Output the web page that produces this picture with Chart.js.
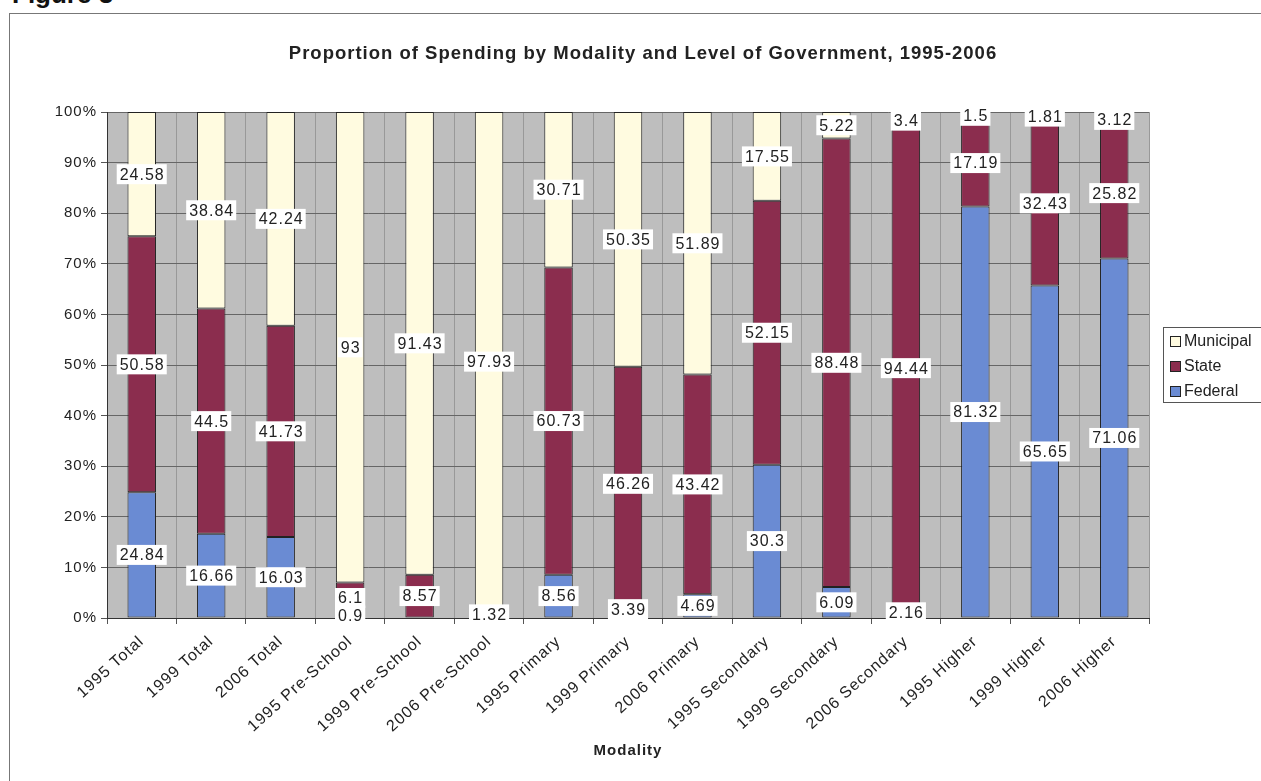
<!DOCTYPE html>
<html>
<head>
<meta charset="utf-8">
<script src="https://cdn.jsdelivr.net/npm/chart.js@4.4.0/dist/chart.umd.min.js"></script>
<style>
body { margin:0; background:#fff; font-family:"Liberation Sans", Arial, sans-serif; }
#wrap { position:relative; width:1261px; height:781px; overflow:hidden; }
#fig { position:absolute; left:12px; top:-21px; font-weight:bold; font-size:26px; color:#111; }
#frame { position:absolute; left:9px; top:13px; width:1300px; height:800px; border:1px solid #777; }
canvas { position:absolute; left:0; top:0; }
</style>
</head>
<body>
<div id="wrap">
<div id="fig">Figure 3</div>
<div id="frame"></div>
<canvas id="graph" width="1261" height="781"></canvas>
</div>
<script>
var categories = ["1995 Total", "1999 Total", "2006 Total", "1995 Pre-School", "1999 Pre-School", "2006 Pre-School",
	"1995 Primary", "1999 Primary", "2006 Primary", "1995 Secondary", "1999 Secondary", "2006 Secondary",
	"1995 Higher", "1999 Higher", "2006 Higher"];
var federal = [24.84, 16.66, 16.03, 0.9, null, null, 8.56, 3.39, 4.69, 30.3, 6.09, 2.16, 81.32, 65.65, 71.06];
var state = [50.58, 44.5, 41.73, 6.1, 8.57, 1.32, 60.73, 46.26, 43.42, 52.15, 88.48, 94.44, 17.19, 32.43, 25.82];
var municipal = [24.58, 38.84, 42.24, 93, 91.43, 97.93, 30.71, 50.35, 51.89, 17.55, 5.22, 3.4, 1.5, 1.81, 3.12];
var seriesNames = ["Federal", "State", "Municipal"];
var yTicks = ["0%", "10%", "20%", "30%", "40%", "50%", "60%", "70%", "80%", "90%", "100%"];

var series = [federal, state, municipal];
var colors = ["#6a8bd3", "#8b2d4e", "#fffbe0"];

// 100% stacked: each bar is scaled to its own total
function share(k) {
	return series[k].map(function (v, i) {
		var tot = 0;
		series.forEach(function (s) { tot += s[i] || 0; });
		return v == null ? null : v / tot * 100;
	});
}

var FONT = '"Liberation Sans", Arial, sans-serif';

var extras = {
	id: "extras",
	beforeUpdate: function (chart) {
		chart.ctx.letterSpacing = "1px";
	},
	beforeDraw: function (chart) {
		var a = chart.chartArea, ctx = chart.ctx;
		ctx.letterSpacing = "1px";
		ctx.save();
		ctx.fillStyle = "#bebebe";
		ctx.fillRect(a.left, a.top, a.right - a.left, a.bottom - a.top);
		ctx.restore();
	},
	afterDatasetsDraw: function (chart) {
		var ctx = chart.ctx;
		ctx.save();
		ctx.font = "16px " + FONT;
		ctx.letterSpacing = "1px";
		ctx.textAlign = "center";
		ctx.textBaseline = "middle";
		chart.data.datasets.forEach(function (ds, di) {
			var meta = chart.getDatasetMeta(di);
			meta.data.forEach(function (bar, i) {
				var v = series[di][i];
				if (v == null) return;
				var p = bar.getProps(["x", "y", "base"], true);
				var cy = (p.y + p.base) / 2;
				var txt = String(v);
				var w = ctx.measureText(txt).width + 5;
				ctx.fillStyle = "#fff";
				ctx.fillRect(p.x - w / 2, cy - 10, w, 20);
				ctx.fillStyle = "#222";
				ctx.fillText(txt, p.x + 0.5, cy + 1);
			});
		});
		ctx.restore();
	},
	afterDraw: function (chart) {
		var ctx = chart.ctx;
		ctx.save();
		// title
		ctx.fillStyle = "#222";
		ctx.font = "bold 18.5px " + FONT;
		ctx.letterSpacing = "1px";
		ctx.textAlign = "center";
		ctx.textBaseline = "middle";
		ctx.fillText("Proportion of Spending by Modality and Level of Government, 1995-2006", 643, 54);
		// legend
		var x0 = 1163, y0 = 327;
		ctx.strokeStyle = "#555";
		ctx.lineWidth = 1;
		ctx.strokeRect(x0 + 0.5, y0 + 0.5, 110, 75);
		ctx.font = "16px " + FONT;
		ctx.letterSpacing = "0px";
		ctx.textAlign = "left";
		for (var k = 2; k >= 0; k--) {
			var yy = y0 + 14 + (2 - k) * 25;
			ctx.fillStyle = colors[k];
			ctx.fillRect(x0 + 7, yy - 5, 11, 11);
			ctx.strokeStyle = "#222";
			ctx.strokeRect(x0 + 7.5, yy - 4.5, 10, 10);
			ctx.fillStyle = "#222";
			ctx.fillText(seriesNames[k], x0 + 21, yy + 1);
		}
		ctx.restore();
	}
};

var ctx = document.getElementById("graph");
var graph = new Chart(ctx, {
	type: "bar",
	data: {
		labels: categories,
		datasets: [0, 1, 2].map(function (k) {
			return {
				label: seriesNames[k],
				data: share(k),
				backgroundColor: colors[k],
				borderColor: "#222",
				borderWidth: 1,
				borderSkipped: false,
				barPercentage: 0.41,
				categoryPercentage: 1
			};
		})
	},
	options: {
		responsive: false,
		animation: false,
		layout: { padding: { left: 0, top: 112, right: 112, bottom: 0 } },
		plugins: { legend: { display: false }, tooltip: { enabled: false }, title: { display: false } },
		scales: {
			x: {
				stacked: true,
				grid: { offset: true, color: "#999", tickLength: 6, tickColor: "#555" },
				border: { color: "#333" },
				ticks: { color: "#222", padding: 8, font: { family: FONT, size: 16 }, minRotation: 42, maxRotation: 42, autoSkip: false },
				title: { display: true, text: "Modality", color: "#222", font: { family: FONT, size: 15, weight: "bold" }, padding: { top: 0, bottom: 21 } },
				afterFit: function (s) { s.height = 163; }
			},
			y: {
				stacked: true,
				min: 0,
				max: 100,
				grid: { color: "#666", tickLength: 6, tickColor: "#555" },
				border: { color: "#333" },
				ticks: {
					stepSize: 10,
					padding: 4,
					color: "#222",
					font: { family: FONT, size: 15 },
					callback: function (v, i) { return yTicks[i]; }
				},
				afterFit: function (s) { s.width = 107; }
			}
		}
	},
	plugins: [extras]
});
</script>
</body>
</html>
